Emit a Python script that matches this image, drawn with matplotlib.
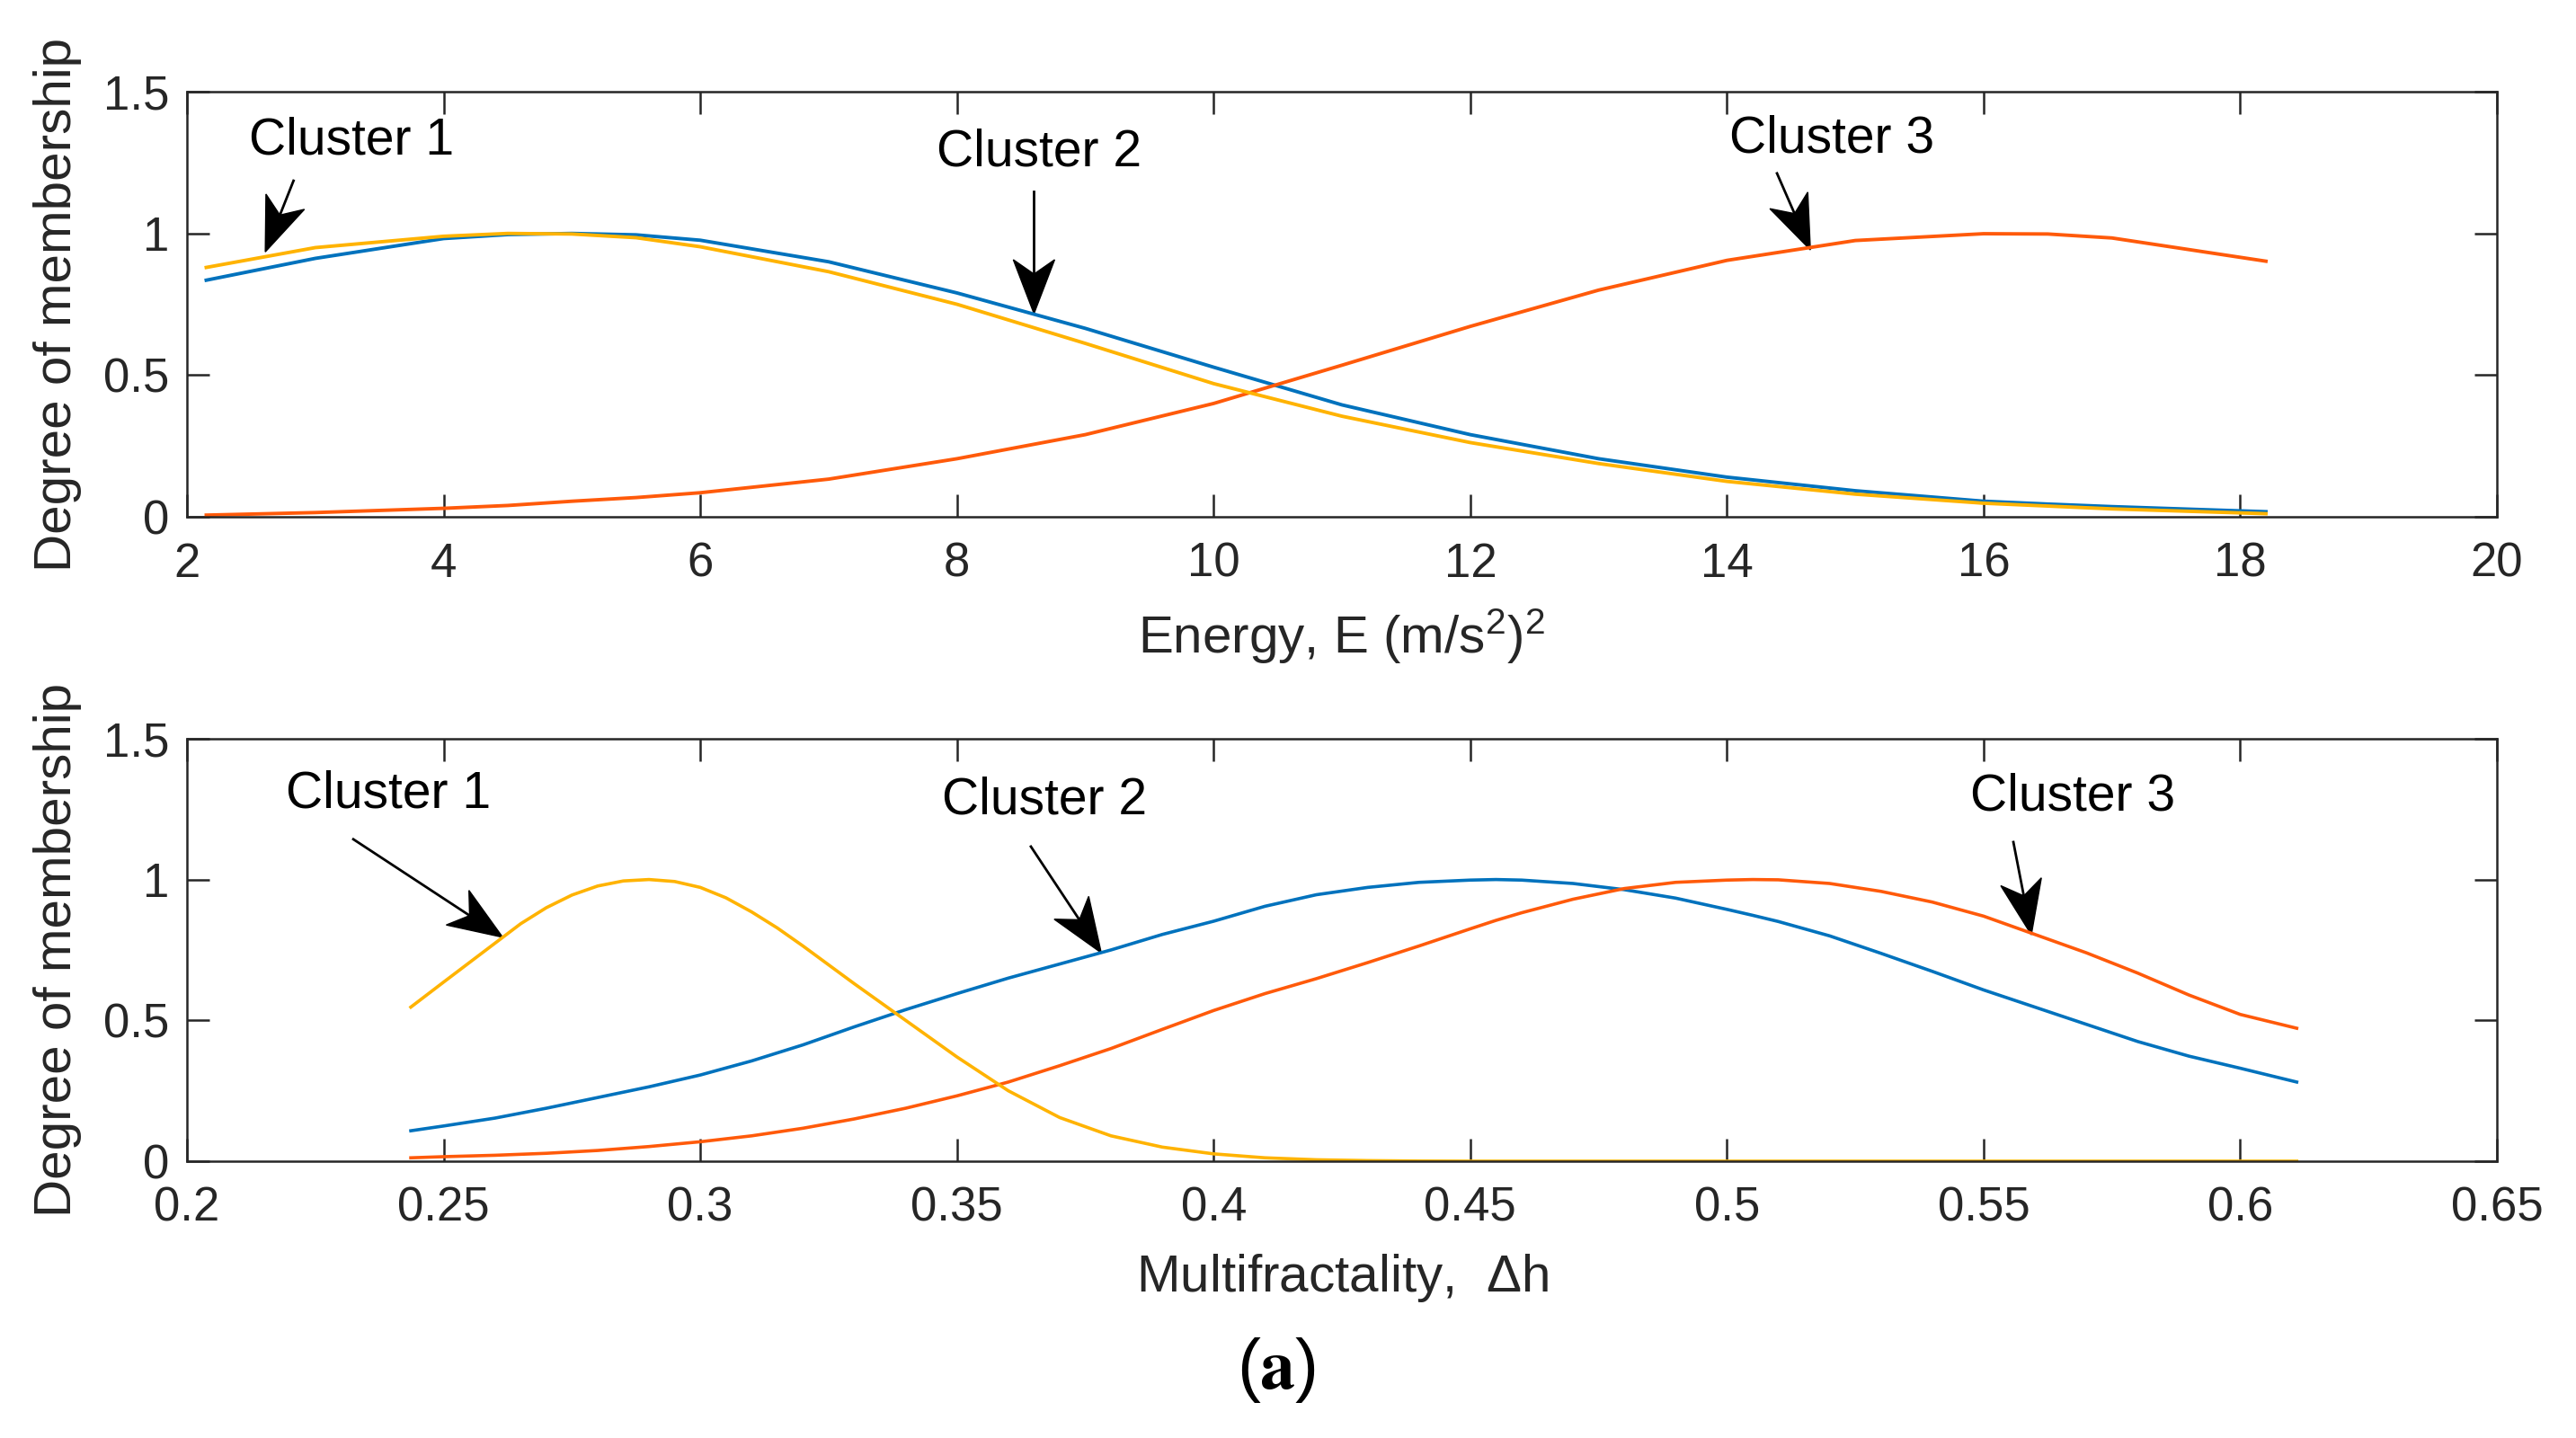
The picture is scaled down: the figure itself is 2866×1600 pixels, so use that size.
import numpy as np
import matplotlib.pyplot as plt
from matplotlib.lines import Line2D
from matplotlib.patches import Polygon
from matplotlib.transforms import IdentityTransform
from matplotlib.ticker import FuncFormatter

plt.rcParams['font.family'] = ['Liberation Sans', 'DejaVu Sans']
plt.rcParams['mathtext.default'] = 'regular'

# %% data

# top panel: energy
energy = [2.15, 3, 4, 4.5, 5, 5.5, 6, 7, 8, 9, 10, 11, 12, 13, 14, 15, 16, 16.5, 17, 18.2]
e_cluster1 = [0.88, 0.95, 0.99, 1.0, 0.998, 0.985, 0.953, 0.865, 0.75, 0.612, 0.47, 0.355,
              0.262, 0.188, 0.125, 0.08, 0.048, 0.038, 0.028, 0.011]
e_cluster2 = [0.835, 0.912, 0.982, 0.996, 1.0, 0.995, 0.976, 0.90, 0.79, 0.665, 0.528, 0.395,
              0.29, 0.205, 0.14, 0.092, 0.055, 0.045, 0.036, 0.018]
e_cluster3 = [0.006, 0.015, 0.03, 0.04, 0.055, 0.068, 0.085, 0.133, 0.205, 0.29, 0.40, 0.535,
              0.672, 0.80, 0.905, 0.975, 0.999, 0.998, 0.984, 0.902]

# bottom panel: multifractality
dh_c1 = [0.2436, 0.25, 0.255, 0.26, 0.265, 0.27, 0.275, 0.28, 0.285, 0.29, 0.295, 0.30,
         0.305, 0.31, 0.315, 0.32, 0.33, 0.34, 0.35, 0.36, 0.37, 0.38, 0.39, 0.40, 0.41,
         0.42, 0.43, 0.44, 0.45, 0.611]
h_cluster1 = [0.547, 0.636, 0.705, 0.774, 0.843, 0.90, 0.945, 0.977, 0.995, 1.0, 0.993,
              0.972, 0.935, 0.885, 0.828, 0.764, 0.63, 0.50, 0.37, 0.25, 0.155, 0.09, 0.05,
              0.026, 0.012, 0.005, 0.002, 0.0005, 0, 0]

dh = [0.2436, 0.25, 0.26, 0.27, 0.28, 0.29, 0.30, 0.31, 0.32, 0.33, 0.34, 0.35, 0.36, 0.37,
      0.38, 0.39, 0.40, 0.41, 0.42, 0.43, 0.44, 0.45, 0.455, 0.46, 0.47, 0.48, 0.49, 0.50,
      0.505, 0.51, 0.52, 0.53, 0.54, 0.55, 0.56, 0.57, 0.58, 0.59, 0.60, 0.611]
h_cluster2 = [0.108, 0.125, 0.153, 0.188, 0.226, 0.264, 0.306, 0.356, 0.413, 0.477, 0.538,
              0.595, 0.65, 0.70, 0.75, 0.805, 0.852, 0.905, 0.946, 0.972, 0.99, 0.998, 1.0,
              0.998, 0.986, 0.964, 0.934, 0.894, 0.873, 0.851, 0.80, 0.738, 0.674, 0.608,
              0.547, 0.486, 0.425, 0.373, 0.33, 0.281]
h_cluster3 = [0.012, 0.016, 0.021, 0.028, 0.038, 0.052, 0.069, 0.09, 0.117, 0.15, 0.188,
              0.232, 0.281, 0.339, 0.40, 0.468, 0.535, 0.595, 0.648, 0.705, 0.764, 0.825,
              0.855, 0.882, 0.93, 0.968, 0.99, 0.998, 1.0, 0.999, 0.986, 0.958, 0.92, 0.87,
              0.805, 0.74, 0.668, 0.59, 0.521, 0.472]

c_blue = '#0072BD'
c_orange = '#FF5A0A'
c_yellow = '#FFB300'
c_axis = '#262626'

DPI = 200
fig = plt.figure(figsize=(14.33, 8), dpi=DPI)
ax1 = fig.add_axes([0.0726, 0.6406, 0.8967, 0.2956])
ax2 = fig.add_axes([0.0726, 0.1925, 0.8967, 0.2938])


def fmt(v, pos):
    return '%g' % round(v, 3)


def style_axes(ax):
    for s in ax.spines.values():
        s.set_linewidth(0.9)
        s.set_color(c_axis)
    ax.tick_params(direction='in', length=9, width=0.9, top=True, right=True,
                   labelsize=19, colors=c_axis)
    ax.tick_params(axis='x', pad=10)
    ax.tick_params(axis='y', pad=7)
    ax.xaxis.set_major_formatter(FuncFormatter(fmt))
    ax.yaxis.set_major_formatter(FuncFormatter(fmt))
    ax.set_ylim(0, 1.5)
    ax.set_yticks([0, 0.5, 1, 1.5])
    ax.set_ylabel('Degree of membership', fontsize=21, color=c_axis)
    ax.yaxis.set_label_coords(-0.0455, 0.5)


def draw_arrow(ax, tail, tip):
    # matlab style 'vback2' head, built in pixel space
    p0 = ax.transData.transform(tail)
    p1 = ax.transData.transform(tip)
    d = (p1 - p0) / np.hypot(*(p1 - p0))
    n = np.array([-d[1], d[0]])
    s = fig.dpi / 200.0
    L, W, N = 60 * s, 23 * s, 44 * s
    notch = p1 - d * N
    shaft = Line2D([p0[0], notch[0]], [p0[1], notch[1]], color='black', lw=1.0,
                   transform=IdentityTransform(), clip_on=False)
    head = Polygon([p1, p1 - d * L + n * W, notch, p1 - d * L - n * W], closed=True,
                   facecolor='black', edgecolor='black', lw=0.5,
                   transform=IdentityTransform(), clip_on=False)
    ax.add_line(shaft)
    ax.add_patch(head)


# %% top panel
style_axes(ax1)
ax1.plot(energy, e_cluster2, color=c_blue, lw=1.4)
ax1.plot(energy, e_cluster3, color=c_orange, lw=1.4)
ax1.plot(energy, e_cluster1, color=c_yellow, lw=1.4)
ax1.set_xlim(2, 20)
ax1.set_xticks(np.arange(2, 21, 2))
ax1.set_xlabel('Energy, E (m/s$^{2}$)$^{2}$', fontsize=21, color=c_axis)
ax1.xaxis.set_label_coords(0.5, -0.212)

# %% bottom panel
style_axes(ax2)
ax2.plot(dh, h_cluster2, color=c_blue, lw=1.3)
ax2.plot(dh, h_cluster3, color=c_orange, lw=1.3)
ax2.plot(dh_c1, h_cluster1, color=c_yellow, lw=1.3)
ax2.set_xlim(0.2, 0.65)
ax2.set_xticks(np.arange(0.2, 0.651, 0.05))
ax2.set_xlabel('Multifractality,  $\\Delta$h', fontsize=21, color=c_axis)
ax2.xaxis.set_label_coords(0.5, -0.215)

# cluster labels and arrows
ax1.text(3.28, 1.326, 'Cluster 1', ha='center', va='center', fontsize=20.5)
ax1.text(8.64, 1.285, 'Cluster 2', ha='center', va='center', fontsize=20.5)
ax1.text(14.82, 1.335, 'Cluster 3', ha='center', va='center', fontsize=20.5)
ax2.text(0.2392, 1.302, 'Cluster 1', ha='center', va='center', fontsize=20.5)
ax2.text(0.367, 1.28, 'Cluster 2', ha='center', va='center', fontsize=20.5)
ax2.text(0.5674, 1.293, 'Cluster 3', ha='center', va='center', fontsize=20.5)

draw_arrow(ax1, (2.83, 1.186), (2.61, 0.935))
draw_arrow(ax1, (8.60, 1.148), (8.60, 0.717))
draw_arrow(ax1, (14.39, 1.212), (14.65, 0.942))
draw_arrow(ax2, (0.2324, 1.143), (0.2615, 0.795))
draw_arrow(ax2, (0.3644, 1.117), (0.3781, 0.74))
draw_arrow(ax2, (0.5558, 1.133), (0.5593, 0.804))

plt.rcParams['mathtext.fontset'] = 'stix'
fig.text(0.4955, 0.047, r'$(\mathbf{a})$', ha='center', va='center', fontsize=28)

fig.savefig('out.png', dpi=DPI)
